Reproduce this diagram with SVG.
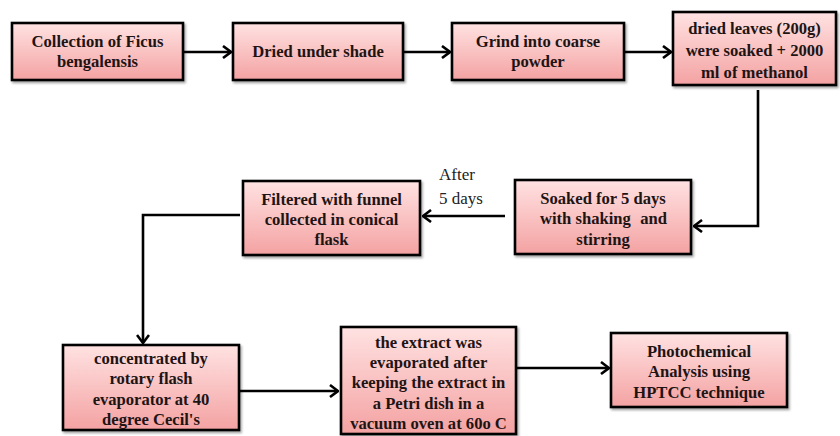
<svg xmlns="http://www.w3.org/2000/svg" width="840" height="436" viewBox="0 0 840 436">
<defs>
<linearGradient id="pk" x1="0" y1="0" x2="0" y2="1">
<stop offset="0" stop-color="#ffe2e2"/>
<stop offset="1" stop-color="#f4a2a2"/>
</linearGradient>
<filter id="sh" x="-5%" y="-5%" width="115%" height="120%">
<feDropShadow dx="1.5" dy="2" stdDeviation="1.2" flood-color="#000" flood-opacity="0.35"/>
</filter>
<marker id="ah" viewBox="0 0 10 14" refX="9" refY="7" markerWidth="10" markerHeight="14" markerUnits="userSpaceOnUse" orient="auto">
<path d="M1,1 L9,7 L1,13" fill="none" stroke="#000" stroke-width="2.6"/>
</marker>
</defs>
<style>
.box{fill:url(#pk);stroke:#000;stroke-width:2.6;filter:url(#sh)}
.t{font-family:"Liberation Serif","Times New Roman",serif;font-weight:bold;font-size:16.6px;fill:#1e1414;text-anchor:middle}
.n{font-family:"Liberation Serif","Times New Roman",serif;font-size:17px;fill:#222}
.c{fill:none;stroke:#000;stroke-width:2.6}
</style>
<rect width="840" height="436" fill="#fff"/>
<g id="connectors">
<path class="c" d="M183,52 H231" marker-end="url(#ah)"/>
<path class="c" d="M403,52 H450" marker-end="url(#ah)"/>
<path class="c" d="M624,52 H671" marker-end="url(#ah)"/>
<path class="c" d="M758,90 V226 H694" marker-end="url(#ah)"/>
<path class="c" d="M505,216 H423" marker-end="url(#ah)"/>
<path class="c" d="M240,215 H143 V343" marker-end="url(#ah)"/>
<path class="c" d="M239,391 H338" marker-end="url(#ah)"/>
<path class="c" d="M512,368 H609" marker-end="url(#ah)"/>
<text class="n" x="439" y="180">After</text>
<text class="n" x="439" y="204">5 days</text>
</g>
<g id="n1">
<rect class="box" x="12" y="23" width="171" height="57"/>
<text class="t" x="97.5" y="47">Collection of Ficus</text>
<text class="t" x="97.5" y="67">bengalensis</text>
</g>
<g id="n2">
<rect class="box" x="233" y="23" width="170" height="57"/>
<text class="t" x="318" y="57">Dried under shade</text>
</g>
<g id="n3">
<rect class="box" x="452" y="23" width="172" height="57"/>
<text class="t" x="538" y="47">Grind into coarse</text>
<text class="t" x="538" y="67">powder</text>
</g>
<g id="n4">
<rect class="box" x="673" y="12" width="163" height="73"/>
<text class="t" x="754.5" y="34">dried leaves (200g)</text>
<text class="t" x="754.5" y="56">were soaked + 2000</text>
<text class="t" x="754.5" y="78">ml of methanol</text>
</g>
<g id="n5">
<rect class="box" x="515" y="180" width="176" height="74"/>
<text class="t" x="603" y="204">Soaked for 5 days</text>
<text class="t" x="540" y="224" style="text-anchor:start">with shaking</text>
<text class="t" x="667" y="224" style="text-anchor:end">and</text>
<text class="t" x="603" y="245">stirring</text>
</g>
<g id="n6">
<rect class="box" x="243" y="181" width="177" height="74"/>
<text class="t" x="331.5" y="205">Filtered with funnel</text>
<text class="t" x="331.5" y="225">collected in conical</text>
<text class="t" x="331.5" y="245">flask</text>
</g>
<g id="n7">
<rect class="box" x="63" y="345" width="176" height="85"/>
<text class="t" x="151" y="364">concentrated by</text>
<text class="t" x="151" y="384">rotary flash</text>
<text class="t" x="151" y="405">evaporator at 40</text>
<text class="t" x="151" y="425">degree Cecil's</text>
</g>
<g id="n8">
<rect class="box" x="341" y="327" width="175" height="107"/>
<text class="t" x="428.5" y="348">the extract was</text>
<text class="t" x="428.5" y="368">evaporated after</text>
<text class="t" x="428.5" y="388">keeping the extract in</text>
<text class="t" x="428.5" y="409">a Petri dish in a</text>
<text class="t" x="428.5" y="429">vacuum oven at 60o C</text>
</g>
<g id="n9">
<rect class="box" x="611" y="333" width="176" height="74"/>
<text class="t" x="699" y="357">Photochemical</text>
<text class="t" x="699" y="377">Analysis using</text>
<text class="t" x="699" y="398">HPTCC technique</text>
</g>
</svg>
